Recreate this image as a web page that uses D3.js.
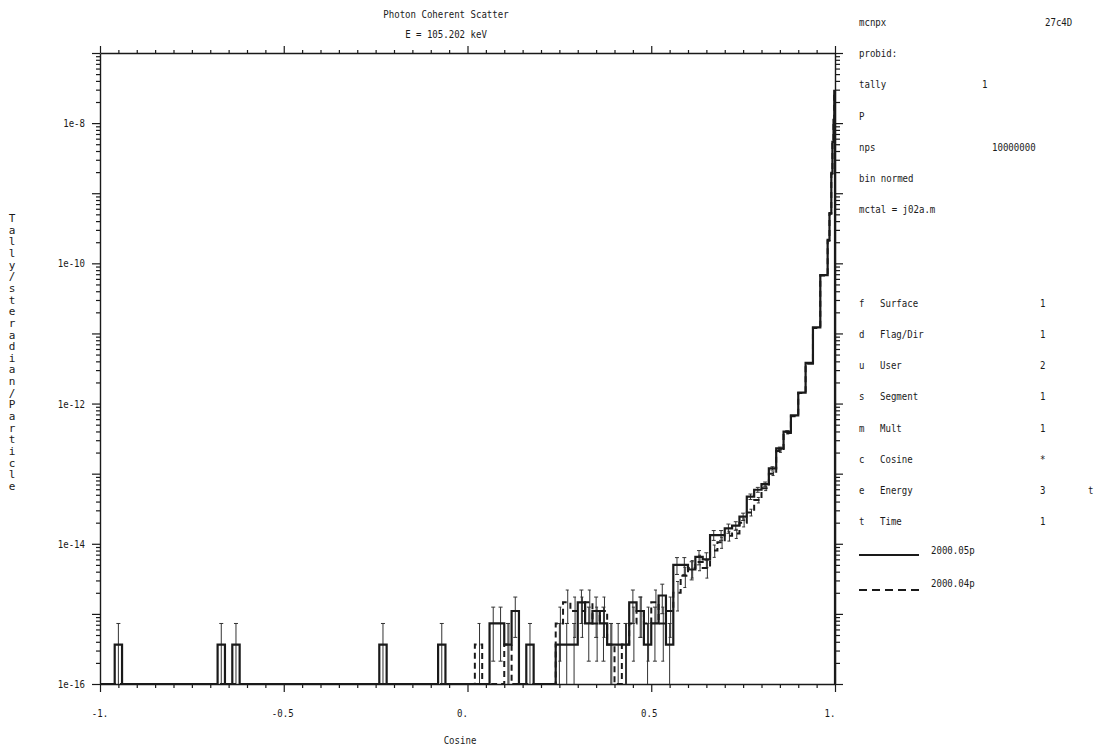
<!DOCTYPE html>
<html><head><meta charset="utf-8">
<script src="https://cdn.jsdelivr.net/npm/d3@7"></script>
<style>
body{margin:0;background:#fff}
svg{display:block}
text{font-family:"DejaVu Sans Mono",monospace;fill:#1a1a1a}
</style>
</head><body><svg id="chart" width="1094" height="746"></svg>
<script>
// ---------- data ----------
const binEdges = [-1,-0.98,-0.96,-0.94,-0.92,-0.9,-0.88,-0.86,-0.84,-0.82,-0.8,-0.78,-0.76,-0.74,-0.72,-0.7,-0.68,-0.66,-0.64,-0.62,
 -0.6,-0.58,-0.56,-0.54,-0.52,-0.5,-0.48,-0.46,-0.44,-0.42,-0.4,-0.38,-0.36,-0.34,-0.32,-0.3,-0.28,-0.26,-0.24,-0.22,
 -0.2,-0.18,-0.16,-0.14,-0.12,-0.1,-0.08,-0.06,-0.04,-0.02,0,0.02,0.04,0.06,0.08,0.1,0.12,0.14,0.16,0.18,
 0.2,0.22,0.24,0.26,0.28,0.3,0.32,0.34,0.36,0.38,0.4,0.42,0.44,0.46,0.48,0.5,0.52,0.54,0.56,0.58,
 0.6,0.62,0.64,0.66,0.68,0.7,0.72,0.74,0.76,0.78,0.8,0.82,0.84,0.86,0.88,0.9,0.92,0.94,0.96,0.98,
 0.985,0.99,0.993,0.996,0.998,1];

// series 2000.05p (solid)
const solidVals = [0,0,3.65e-16,0,0,0,0,0,0,0,
 0,0,0,0,0,0,3.65e-16,0,3.65e-16,0,
 0,0,0,0,0,0,0,0,0,0,
 0,0,0,0,0,0,0,0,3.65e-16,0,
 0,0,0,0,0,0,3.65e-16,0,0,0,
 0,0,0,7.3e-16,7.3e-16,3.65e-16,1.1e-15,0,3.65e-16,0,
 0,0,3.65e-16,3.65e-16,3.65e-16,1.46e-15,7.3e-16,1.1e-15,7.3e-16,3.65e-16,
 3.65e-16,3.65e-16,1.46e-15,1.1e-15,3.65e-16,7.3e-16,1.83e-15,3.65e-16,5.0e-15,5.0e-15,
 4.3e-15,6.5e-15,6.0e-15,1.33e-14,1.33e-14,1.66e-14,1.81e-14,2.44e-14,4.7e-14,5.9e-14,
 7.1e-14,1.19e-13,2.3e-13,3.98e-13,6.8e-13,1.43e-12,3.8e-12,1.22e-11,6.8e-11,2.16e-10,
 5.2e-10,1.95e-9,5.4e-9,1.11e-8,2.88e-8];
const solidErr = [0,0,1,0,0,0,0,0,0,0,
 0,0,0,0,0,0,1,0,1,0,
 0,0,0,0,0,0,0,0,0,0,
 0,0,0,0,0,0,0,0,1,0,
 0,0,0,0,0,0,1,0,0,0,
 0,0,0,0.71,0.71,1,0.58,0,1,0,
 0,0,1,1,1,0.5,0.71,0.58,0.71,1,
 1,1,0.5,0.58,1,0.71,0.45,1,0.27,0.27,
 0.29,0.23,0.24,0.16,0.16,0.15,0.14,0.12,0.09,0.08,
 0.07,0.055,0.04,0.03,0.023,0.016,0.01,0.006,0.003,0.002,
 0.002,0.002,0.002,0.002,0.002];

// series 2000.04p (dashed)
const dashVals = [0,0,0,0,0,0,0,0,0,0,
 0,0,0,0,0,0,0,0,0,0,
 0,0,0,0,0,0,0,0,0,0,
 0,0,0,0,0,0,0,0,0,0,
 0,0,0,0,0,0,0,0,0,0,
 0,3.65e-16,0,0,0,3.65e-16,0,0,0,0,
 0,0,7.3e-16,1.46e-15,1.1e-15,1.1e-15,1.46e-15,7.3e-16,1.1e-15,3.65e-16,
 0,3.65e-16,7.3e-16,1.1e-15,7.3e-16,1.46e-15,7.3e-16,1.1e-15,2.0e-15,3.5e-15,
 4.5e-15,5.5e-15,4.5e-15,8.0e-15,1.05e-14,1.3e-14,1.4e-14,2.0e-14,2.8e-14,4.2e-14,
 6.2e-14,1.0e-13,2.1e-13,3.8e-13,6.6e-13,1.42e-12,3.7e-12,1.2e-11,6.7e-11,2.1e-10,
 5.1e-10,1.9e-9,5.3e-9,1.1e-8,2.85e-8];
const dashErr = [0,0,0,0,0,0,0,0,0,0,
 0,0,0,0,0,0,0,0,0,0,
 0,0,0,0,0,0,0,0,0,0,
 0,0,0,0,0,0,0,0,0,0,
 0,0,0,0,0,0,0,0,0,0,
 0,1,0,0,0,1,0,0,0,0,
 0,0,0.71,0.5,0.58,0.58,0.5,0.71,0.58,1,
 0,1,0.71,0.58,0.71,0.5,0.71,0.58,0.45,0.32,
 0.28,0.25,0.28,0.2,0.18,0.16,0.15,0.13,0.11,0.09,
 0.075,0.06,0.042,0.031,0.024,0.016,0.01,0.006,0.003,0.002,
 0.002,0.002,0.002,0.002,0.002];

const xTickValues = [-1,-0.5,0,0.5,1];
const xTickLabels = ["-1.","-0.5","0.","0.5","1."];
const yTickValues = [1e-8,1e-10,1e-12,1e-14,1e-16];
const yTickLabels = ["1e-8","1e-10","1e-12","1e-14","1e-16"];

const titleLines = ["Photon Coherent Scatter","E = 105.202 keV"];
const xTitle = "Cosine";
const yTitle = "Tally/steradian/Particle";

const infoRow = [0,1,2,3,4,5,6];
const infoText = ["mcnpx","probid:","tally","P","nps","bin normed","mctal = j02a.m"];
const infoValue = ["27c4D","","1","","10000000","",""];
const infoValueX = [1045,0,982,0,992,0,0];

const binRow = [9,10,11,12,13,14,15,16];
const binLetter = ["f","d","u","s","m","c","e","t"];
const binName = ["Surface","Flag/Dir","User","Segment","Mult","Cosine","Energy","Time"];
const binValue = ["1","1","2","1","1","*","3","1"];
const binExtra = ["","","","","","","t",""];

const legendNames = ["2000.05p","2000.04p"];

// ---------- layout ----------
const svg = d3.select("#chart");
const L = 100, R = 835, T = 53, B = 684;
const x = d3.scaleLinear().domain([-1,1]).range([L,R]);
const y = d3.scaleLog().domain([1e-16,1e-7]).range([B,T]);
const CW = 5.45; // character advance
const ink = "#1a1a1a";

function txt(g, px, py, s, anchor){
  if(!s) return;
  g.append("text").attr("x",px).attr("y",py).attr("font-size",11)
   .attr("text-anchor",anchor||"start")
   .attr("textLength",s.length*CW).attr("lengthAdjust","spacingAndGlyphs")
   .text(s);
}

// ---------- axes ----------
const xMinor = d3.range(-1,1.0001,0.05).map(v=>+v.toFixed(2));
const isMajorX = v => Math.abs(v*2 - Math.round(v*2))<1e-6;
const yMinor = [];
for(let e=-16;e<=-7;e++){ for(let m=1;m<=9;m++){ const v=m*Math.pow(10,e); if(v<=1.0001e-7) yMinor.push(v);} }
const isMajorY = v => Math.abs(Math.log10(v)-Math.round(Math.log10(v)))<1e-6;

function styleAxis(g, majorLen, minorLen, isMaj, dir){
  g.select(".domain").attr("stroke",ink).attr("stroke-width",1.4);
  g.selectAll(".tick line").attr("stroke",ink).attr("stroke-width",1.2)
   .each(function(d){
     const len = isMaj(d)?majorLen:minorLen;
     const el=d3.select(this);
     if(dir==="x") el.attr("x2",len).attr("y2",0); else el.attr("y2",len).attr("x2",0);
   });
  g.selectAll(".tick text").remove();
}
const axB = svg.append("g").attr("transform",`translate(0,${B})`)
  .call(d3.axisBottom(x).tickValues(xMinor).tickSizeOuter(0));
styleAxis(axB, 8, 4, isMajorX, "y");
const axT = svg.append("g").attr("transform",`translate(0,${T})`)
  .call(d3.axisTop(x).tickValues(xMinor).tickSizeOuter(0));
styleAxis(axT, -7, -3, isMajorX, "y");
const axL = svg.append("g").attr("transform",`translate(${L},0)`)
  .call(d3.axisLeft(y).tickValues(yMinor).tickSizeOuter(0));
styleAxis(axL, -8, -4, isMajorY, "x");
const axR = svg.append("g").attr("transform",`translate(${R},0)`)
  .call(d3.axisRight(y).tickValues(yMinor).tickSizeOuter(0));
styleAxis(axR, 8, 5, isMajorY, "x");

const lab = svg.append("g");
const xLabelShift = [0,-1,-5,-2,-5];
xTickValues.forEach((v,i)=>{ txt(lab, x(v)+xLabelShift[i], 717, xTickLabels[i], "middle"); });
yTickValues.forEach((v,i)=>{ txt(lab, 85, y(v)+4, yTickLabels[i], "end"); });
txt(lab, 446, 18, titleLines[0], "middle");
txt(lab, 446, 38, titleLines[1], "middle");
txt(lab, 460, 744, xTitle, "middle");
const yChars = yTitle.split("");
yChars.forEach((c,i)=>{
  lab.append("text").attr("x",12).attr("y",222+i*11.65).attr("font-size",11)
   .attr("text-anchor","middle").text(c);
});

// ---------- series ----------
function stepPoints(vals){
  const pts=[[x(binEdges[0]),B]];
  vals.forEach((v,i)=>{
    const yy = v>0 ? y(Math.max(v,1e-16)) : B;
    pts.push([x(binEdges[i]),yy]); pts.push([x(binEdges[i+1]),yy]);
  });
  pts.push([x(binEdges[binEdges.length-1]),B]);
  return pts;
}
const line = d3.line();
const plot = svg.append("g");

function errBars(vals, errs, dx, capL, capR){
  const g = plot.append("g").attr("stroke","#333").attr("stroke-width",1);
  vals.forEach((v,i)=>{
    if(!(v>0) || !(errs[i]>0)) return;
    const cx = (x(binEdges[i])+x(binEdges[i+1]))/2 + dx;
    const hi = v*(1+errs[i]); const lo = v*(1-errs[i]);
    const yHi = y(Math.min(hi,1e-7));
    const yLo = lo>1e-16 ? y(lo) : B;
    if (Math.abs(yLo-yHi) < 1.5) return;
    g.append("line").attr("x1",cx).attr("x2",cx).attr("y1",yHi).attr("y2",yLo);
    g.append("line").attr("x1",cx-capL).attr("x2",cx+capR).attr("y1",yHi).attr("y2",yHi);
    if(lo>1e-16) g.append("line").attr("x1",cx-capL).attr("x2",cx+capR).attr("y1",yLo).attr("y2",yLo);
  });
}
errBars(dashVals, dashErr, 1, 2, 1);
errBars(solidVals, solidErr, 0, 2, 2);

plot.append("path").attr("d",line(stepPoints(dashVals))).attr("fill","none")
  .attr("stroke",ink).attr("stroke-width",2).attr("stroke-dasharray","6,4");
plot.append("path").attr("d",line(stepPoints(solidVals))).attr("fill","none")
  .attr("stroke",ink).attr("stroke-width",2.2);

// ---------- info panel ----------
const info = svg.append("g");
const IX = 859;
const rowY = k => 22 + 31.2*k + 4;
infoRow.forEach((k,i)=>{
  txt(info, IX, rowY(k), infoText[i]);
  if(infoValue[i]) txt(info, infoValueX[i], rowY(k), infoValue[i]);
});
binRow.forEach((k,i)=>{
  txt(info, IX, rowY(k), binLetter[i]);
  txt(info, IX+21, rowY(k), binName[i]);
  txt(info, 1040, rowY(k), binValue[i]);
  if(binExtra[i]) txt(info, 1088, rowY(k), binExtra[i]);
});
// legend
const legY = [555, 590];
info.append("line").attr("x1",IX).attr("x2",IX+60).attr("y1",legY[0]).attr("y2",legY[0])
  .attr("stroke",ink).attr("stroke-width",2);
info.append("line").attr("x1",IX).attr("x2",IX+60).attr("y1",legY[1]).attr("y2",legY[1])
  .attr("stroke",ink).attr("stroke-width",2).attr("stroke-dasharray","8,5");
txt(info, 931, legY[0]-1, legendNames[0]);
txt(info, 931, legY[1]-3, legendNames[1]);
</script>
</body></html>
